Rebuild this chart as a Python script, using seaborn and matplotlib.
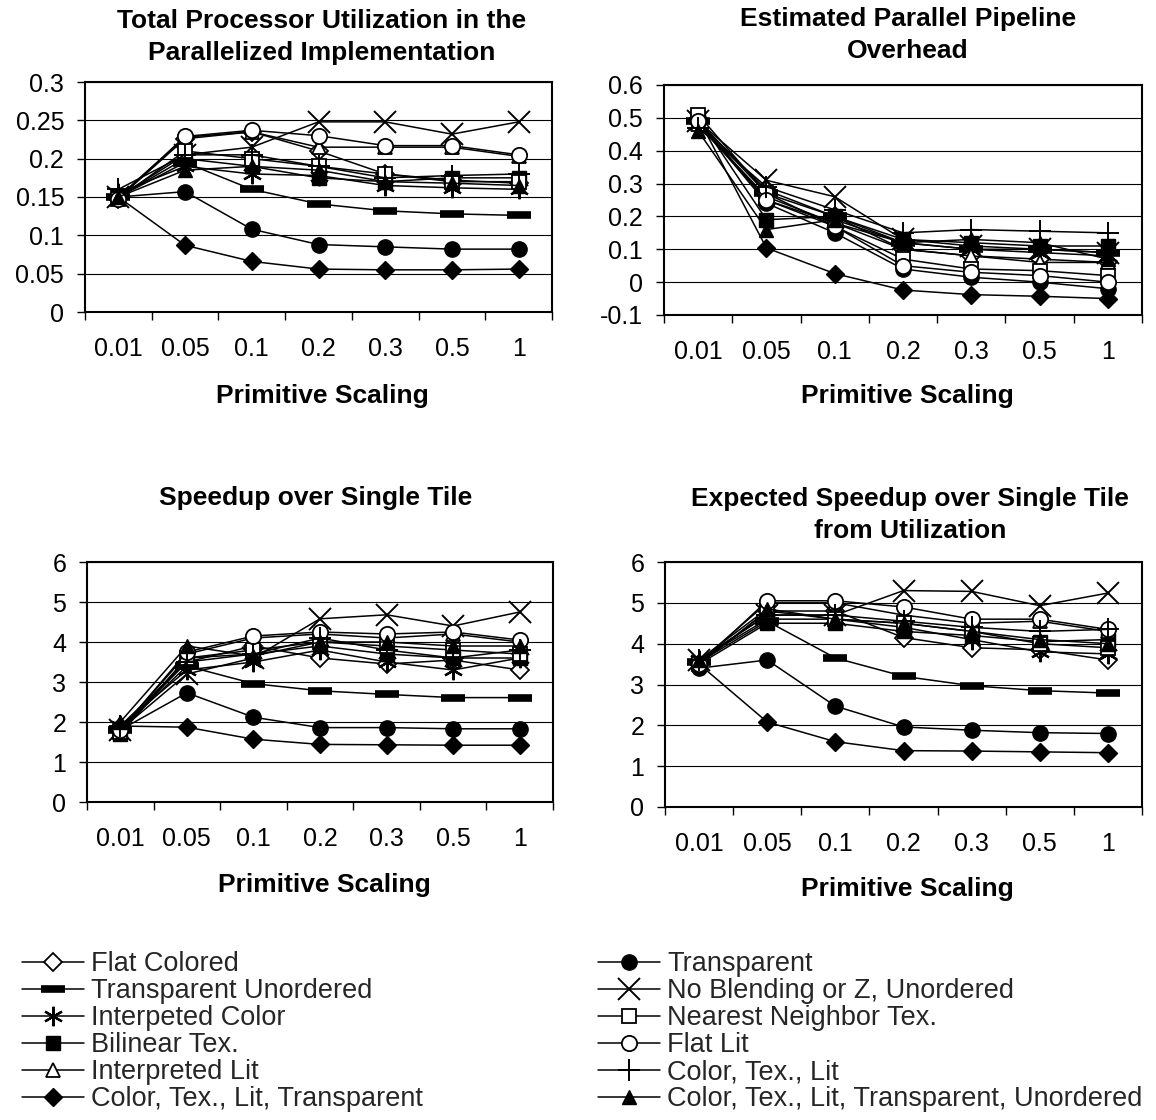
import numpy as np
import pandas as pd
import matplotlib
matplotlib.use("Agg")
import matplotlib.pyplot as plt
import seaborn as sns
from matplotlib.ticker import FuncFormatter

# x categories
scaling = ["0.01", "0.05", "0.1", "0.2", "0.3", "0.5", "1"]

series = ["Flat Colored", "Transparent Unordered", "Interpeted Color", "Bilinear Tex.",
          "Interpreted Lit", "Color, Tex., Lit, Transparent",
          "Transparent", "No Blending or Z, Unordered", "Nearest Neighbor Tex.",
          "Flat Lit", "Color, Tex., Lit", "Color, Tex., Lit, Transparent, Unordered"]

# one row per series, same order as above
utilization = [
    [0.148, 0.226, 0.235, 0.210, 0.180, 0.172, 0.168],
    [0.150, 0.195, 0.160, 0.141, 0.132, 0.128, 0.126],
    [0.155, 0.190, 0.180, 0.178, 0.165, 0.162, 0.160],
    [0.150, 0.200, 0.190, 0.175, 0.170, 0.175, 0.175],
    [0.150, 0.228, 0.235, 0.215, 0.215, 0.215, 0.203],
    [0.150, 0.087, 0.066, 0.056, 0.055, 0.055, 0.056],
    [0.150, 0.157, 0.108, 0.088, 0.085, 0.082, 0.082],
    [0.150, 0.205, 0.215, 0.248, 0.248, 0.232, 0.248],
    [0.148, 0.210, 0.200, 0.190, 0.180, 0.170, 0.170],
    [0.148, 0.229, 0.237, 0.230, 0.217, 0.217, 0.205],
    [0.160, 0.205, 0.205, 0.190, 0.175, 0.178, 0.180],
    [0.150, 0.185, 0.190, 0.185, 0.170, 0.168, 0.165],
]

overhead = [
    [0.49, 0.28, 0.20, 0.10, 0.08, 0.07, 0.06],
    [0.49, 0.27, 0.20, 0.12, 0.10, 0.10, 0.09],
    [0.48, 0.25, 0.18, 0.12, 0.10, 0.09, 0.08],
    [0.50, 0.19, 0.20, 0.13, 0.12, 0.11, 0.11],
    [0.48, 0.26, 0.18, 0.10, 0.08, 0.06, 0.06],
    [0.50, 0.104, 0.026, -0.024, -0.038, -0.043, -0.05],
    [0.49, 0.24, 0.15, 0.04, 0.015, 0.0, -0.02],
    [0.49, 0.31, 0.26, 0.13, 0.11, 0.10, 0.09],
    [0.51, 0.27, 0.17, 0.07, 0.04, 0.035, 0.02],
    [0.49, 0.25, 0.17, 0.05, 0.03, 0.02, 0.0],
    [0.47, 0.29, 0.22, 0.15, 0.16, 0.155, 0.15],
    [0.46, 0.16, 0.19, 0.12, 0.13, 0.12, 0.07],
]

speedup = [
    [1.80, 3.50, 3.90, 3.60, 3.45, 3.55, 3.30],
    [1.80, 3.40, 2.96, 2.78, 2.69, 2.61, 2.61],
    [1.90, 3.30, 3.50, 3.80, 3.50, 3.30, 3.60],
    [1.70, 3.60, 3.70, 3.90, 3.70, 3.60, 3.60],
    [1.80, 3.70, 4.10, 4.20, 4.10, 4.20, 4.00],
    [1.90, 1.87, 1.57, 1.44, 1.43, 1.42, 1.42],
    [1.80, 2.73, 2.12, 1.86, 1.86, 1.83, 1.83],
    [1.80, 3.20, 3.60, 4.58, 4.68, 4.40, 4.75],
    [1.75, 3.60, 3.80, 4.00, 3.90, 3.80, 3.70],
    [1.80, 3.75, 4.15, 4.25, 4.20, 4.25, 4.05],
    [1.90, 3.50, 3.70, 4.10, 3.80, 3.60, 3.80],
    [2.00, 3.90, 3.65, 4.00, 4.00, 3.90, 3.90],
]

expected = [
    [3.50, 4.80, 4.80, 4.15, 3.90, 3.85, 3.60],
    [3.55, 4.55, 3.65, 3.20, 2.97, 2.85, 2.79],
    [3.60, 4.60, 4.60, 4.40, 4.10, 3.80, 3.75],
    [3.50, 4.50, 4.50, 4.30, 4.20, 4.05, 4.10],
    [3.55, 5.00, 5.00, 4.70, 4.50, 4.55, 4.30],
    [3.50, 2.08, 1.60, 1.38, 1.37, 1.35, 1.33],
    [3.40, 3.60, 2.47, 1.96, 1.88, 1.82, 1.80],
    [3.60, 4.70, 4.70, 5.30, 5.28, 4.93, 5.24],
    [3.50, 4.80, 4.60, 4.50, 4.30, 4.00, 3.90],
    [3.50, 5.05, 5.05, 4.90, 4.60, 4.60, 4.35],
    [3.60, 4.70, 4.70, 4.55, 4.40, 4.30, 4.35],
    [3.60, 4.85, 4.60, 4.50, 4.30, 4.10, 4.00],
]

# marker styles per series
W = "white"
K = "black"
styles = [
    dict(marker="D", ms=9, mfc=W, mew=1.3),
    dict(marker="_", ms=17, mew=5.5),
    dict(marker=(6, 2, 0), ms=14, mew=1.6),
    dict(marker="s", ms=10, mfc=K, mew=1),
    dict(marker="^", ms=10, mfc=W, mew=1.3),
    dict(marker="D", ms=9, mfc=K, mew=1),
    dict(marker="o", ms=11, mfc=K, mew=1),
    dict(marker="x", ms=16, mew=1.4),
    dict(marker="s", ms=10, mfc=W, mew=1.3),
    dict(marker="o", ms=11, mfc=W, mew=1.3),
    dict(marker="+", ms=16, mew=1.4),
    dict(marker="^", ms=10, mfc=K, mew=1),
]

sns.set_theme(style="white")
plt.rcParams["font.family"] = ["Liberation Sans", "DejaVu Sans"]

FW, FH = 1156, 1120
fig = plt.figure(figsize=(FW / 100, FH / 100), dpi=100)


def px_axes(l, t, r, b):
    return fig.add_axes([l / FW, 1 - b / FH, (r - l) / FW, (b - t) / FH])


def draw(ax, values, ymin, ymax, step):
    rows = []
    for name, vals in zip(series, values):
        for i, v in enumerate(vals):
            rows.append((name, i, v))
    df = pd.DataFrame(rows, columns=["series", "pos", "value"])
    for name, st in zip(series, styles):
        sub = df[df["series"] == name]
        sns.lineplot(data=sub, x="pos", y="value", ax=ax, color=K, lw=1.1,
                     mec=K, label=name, legend=False, **st)
    ax.set_xlim(-0.5, 6.5)
    ax.set_xticks(range(len(scaling)))
    ax.set_xticklabels(scaling)
    ax.set_xticks(np.arange(-0.5, 7, 1), minor=True)
    ax.tick_params(axis="x", which="major", length=0, pad=18, labelsize=18, labelcolor=K)
    ax.tick_params(axis="x", which="minor", length=6, width=1, direction="out", color=K, bottom=True)
    ax.set_ylim(ymin, ymax)
    ax.set_yticks(np.arange(ymin, ymax + step / 2, step))
    ax.yaxis.set_major_formatter(FuncFormatter(lambda v, p: "%g" % round(v, 3)))
    ax.tick_params(axis="y", which="major", length=6, width=1, direction="out", color=K,
                   left=True, pad=9, labelsize=18, labelcolor=K)
    ax.yaxis.grid(True, color=K, lw=0.8)
    ax.xaxis.grid(False)
    for sp in ax.spines.values():
        sp.set_color(K)
        sp.set_linewidth(1.5)
    ax.set_xlabel("")
    ax.set_ylabel("")


panels = [
    ((85, 82, 552, 312), utilization, 0, 0.3, 0.05,
     "Total Processor Utilization in the\nParallelized Implementation", (322, 37), 396),
    ((664, 85, 1142, 315), overhead, -0.1, 0.6, 0.1,
     "Estimated Parallel Pipeline\nOverhead", (908, 35), 396),
    ((87, 562, 553, 802), speedup, 0, 6, 1,
     "Speedup over Single Tile", (316, 498), 885),
    ((665, 562, 1142, 807), expected, 0, 6, 1,
     "Expected Speedup over Single Tile\nfrom Utilization", (910, 515), 889),
]

axes = []
for box, vals, lo, hi, st, title, tpos, xl_y in panels:
    ax = px_axes(*box)
    draw(ax, vals, lo, hi, st)
    axes.append(ax)
    fig.text(tpos[0] / FW, 1 - tpos[1] / FH, title, ha="center", va="center",
             fontsize=19, fontweight="bold", linespacing=1.45, color=K)
    cx = (box[0] + box[2]) / 2 + 4
    fig.text(cx / FW, 1 - xl_y / FH, "Primitive Scaling", ha="center", va="center",
             fontsize=19, fontweight="bold", color=K)

handles, labels = axes[0].get_legend_handles_labels()
common = dict(loc="upper left", frameon=False, fontsize=19.5, handlelength=2.3,
              handletextpad=0.25, labelspacing=0.04, borderaxespad=0, borderpad=0)
leg1 = fig.legend(handles[:6], labels[:6], bbox_to_anchor=(22 / FW, 1 - 951 / FH), **common)
leg2 = fig.legend(handles[6:], labels[6:], bbox_to_anchor=(598 / FW, 1 - 951 / FH), **common)

fig.savefig("out.png", dpi=100, facecolor="white")
